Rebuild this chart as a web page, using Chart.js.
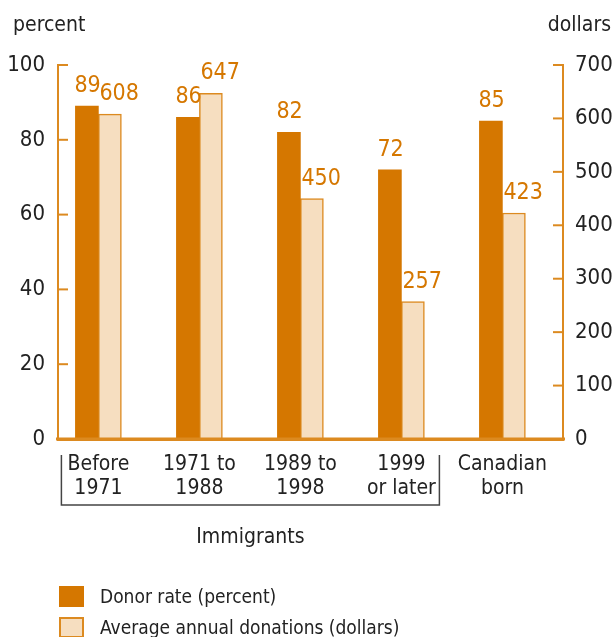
<!DOCTYPE html><html lang="en"><head><meta charset="utf-8"/>
<title>Donor rate and average donations</title>
<script src="https://cdn.jsdelivr.net/npm/chart.js@4.4.1/dist/chart.umd.min.js"></script>
<style>
  *{box-sizing:border-box}
  body{margin:0;background:#fff;font-family:"Liberation Sans Narrow","DejaVu Sans Condensed",sans-serif}
  #wrap{position:relative;width:613px;height:637px}
  .leg{position:absolute;left:59px;font-size:19px;color:#222;display:flex;align-items:center}
  .leg i{display:inline-block;width:25px;height:21px;margin-right:16px}
</style></head><body>
<div id="wrap">
  <canvas id="c"></canvas>
  <div class="leg" style="top:585px"><i style="background:#d57700"></i>Donor rate (percent)</div>
  <div class="leg" style="top:616px"><i style="background:#f6dec0;border:2px solid #dc8a20"></i>Average annual donations (dollars)</div>
</div>
<script>
const categories = [['Before','1971'], ['1971 to','1988'], ['1989 to','1998'], ['1999','or later'], ['Canadian','born']];
const donorRate = [89, 86, 82, 72, 85];
const avgDonations = [608, 647, 450, 257, 423];
const pctTicks = [0, 20, 40, 60, 80, 100];
const dollarTicks = [0, 100, 200, 300, 400, 500, 600, 700];

const ORANGE = '#d57700', LINE = '#dc8a20', FONT = '"Liberation Sans Narrow","DejaVu Sans Condensed",sans-serif';

const extras = {
  id: 'extras',
  afterDraw(chart) {
    const ctx = chart.ctx, a = chart.chartArea;
    const y = chart.scales.y, y2 = chart.scales.y2, x = chart.scales.x;
    ctx.save();
    // inward tick marks
    ctx.strokeStyle = LINE; ctx.lineWidth = 2;
    y.ticks.forEach(t => { const p = y.getPixelForValue(t.value); ctx.beginPath(); ctx.moveTo(a.left, p); ctx.lineTo(a.left + 10, p); ctx.stroke(); });
    y2.ticks.forEach(t => { const p = y2.getPixelForValue(t.value); ctx.beginPath(); ctx.moveTo(a.right, p); ctx.lineTo(a.right - 10, p); ctx.stroke(); });
    // baseline runs a little past both axes
    ctx.lineWidth = 3; ctx.beginPath(); ctx.moveTo(a.left - 2, a.bottom); ctx.lineTo(a.right + 2, a.bottom); ctx.stroke();
    // axis titles
    ctx.fillStyle = '#222'; ctx.font = '21px ' + FONT; ctx.textBaseline = 'middle';
    ctx.textAlign = 'left'; ctx.fillText('percent', 13, 26);
    ctx.textAlign = 'right'; ctx.fillText('dollars', 611, 26);
    // bracket for immigrant groups
    const bx1 = x.getPixelForValue(0) - 37, bx2 = x.getPixelForValue(3) + 38;
    ctx.strokeStyle = '#444'; ctx.lineWidth = 1.5;
    ctx.beginPath(); ctx.moveTo(bx1, 455); ctx.lineTo(bx1, 505); ctx.lineTo(bx2, 505); ctx.lineTo(bx2, 455); ctx.stroke();
    ctx.textAlign = 'center'; ctx.fillText('Immigrants', (bx1 + bx2) / 2, 538);
    // value labels
    ctx.fillStyle = ORANGE; ctx.font = '23px ' + FONT; ctx.textAlign = 'left'; ctx.textBaseline = 'alphabetic';
    chart.data.datasets.forEach((ds, di) => {
      chart.getDatasetMeta(di).data.forEach((bar, i) => {
        ctx.fillText(String(ds.data[i].y), bar.x - bar.width / 2 + (di ? 1 : -1), bar.y - 14);
      });
    });
    ctx.restore();
  }
};

new Chart(document.getElementById('c'), {
  type: 'bar',
  data: {
    datasets: [
      { label: 'Donor rate (percent)', data: donorRate.map((v, i) => ({ x: i, y: v })), yAxisID: 'y',
        backgroundColor: ORANGE, borderWidth: 0, barThickness: 23 },
      { label: 'Average annual donations (dollars)', data: avgDonations.map((v, i) => ({ x: i, y: v })), yAxisID: 'y2',
        backgroundColor: '#f6dec0', borderColor: LINE, borderWidth: 1.5, borderSkipped: 'bottom', barThickness: 23 }
    ]
  },
  options: {
    responsive: true, maintainAspectRatio: false, animation: false,
    layout: { padding: { top: 65, left: 0, right: 0, bottom: 0 } },
    plugins: { legend: { display: false }, tooltip: { enabled: false } },
    scales: {
      x: {
        type: 'linear', min: -0.4, max: 4.6, offset: false,
        afterBuildTicks: s => { s.ticks = categories.map((_, i) => ({ value: i })); },
        afterFit: s => { s.height = 198; },
        grid: { display: false, drawTicks: false },
        border: { color: LINE, width: 3 },
        ticks: { padding: 13, color: '#222', font: { family: FONT, size: 21, lineHeight: 1.15 },
          callback: v => categories[v] }
      },
      y: {
        position: 'left', min: 0, max: 100,
        afterBuildTicks: s => { s.ticks = pctTicks.map(v => ({ value: v })); },
        afterFit: s => { s.width = 58; },
        grid: { display: false, drawTicks: false }, border: { color: LINE, width: 2 },
        ticks: { padding: 13, color: '#222', font: { family: FONT, size: 22 } }
      },
      y2: {
        position: 'right', min: 0, max: 700,
        afterBuildTicks: s => { s.ticks = dollarTicks.map(v => ({ value: v })); },
        afterFit: s => { s.width = 50; },
        grid: { display: false, drawTicks: false }, border: { color: LINE, width: 2 },
        ticks: { padding: 12, color: '#222', font: { family: FONT, size: 22 } }
      }
    }
  },
  plugins: [extras]
});
</script></body></html>
